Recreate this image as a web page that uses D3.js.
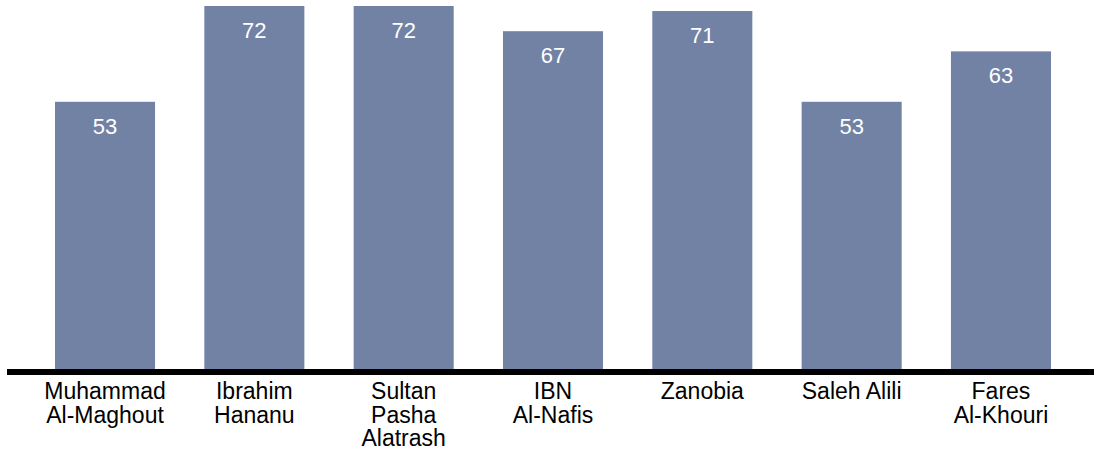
<!DOCTYPE html>
<html>
<head>
<meta charset="utf-8">
<script src="https://cdn.jsdelivr.net/npm/d3@7"></script>
<style>
  body { margin: 0; background: #fff; }
  svg { display: block; font-family: "Liberation Sans", Arial, Helvetica, sans-serif; }
</style>
</head>
<body>
<div id="container"></div>
<script>
const categories = [
  ["Muhammad", "Al-Maghout"],
  ["Ibrahim", "Hananu"],
  ["Sultan", "Pasha", "Alatrash"],
  ["IBN", "Al-Nafis"],
  ["Zanobia"],
  ["Saleh Alili"],
  ["Fares", "Al-Khouri"]
];
const values = [53, 72, 72, 67, 71, 53, 63];

const width = 1099, height = 451;

const svg = d3.select("#container")
  .append("svg")
  .attr("width", width)
  .attr("height", height);

const keys = categories.map(c => c.join(" "));

const x = d3.scaleBand()
  .domain(keys)
  .range([55, 1051])
  .paddingInner(0.33)
  .paddingOuter(0);

const y = d3.scaleLinear()
  .domain([0, 72])
  .range([369, 6]);

// bars
svg.selectAll("rect.bar")
  .data(values)
  .join("rect")
  .attr("class", "bar")
  .attr("x", (d, i) => x(keys[i]))
  .attr("y", d => y(d))
  .attr("width", x.bandwidth())
  .attr("height", d => y(0) - y(d))
  .attr("fill", "#7282a5");

// value labels
svg.selectAll("text.val")
  .data(values)
  .join("text")
  .attr("class", "val")
  .attr("x", (d, i) => x(keys[i]) + x.bandwidth() / 2)
  .attr("y", d => y(d) + 32)
  .attr("text-anchor", "middle")
  .style("font-size", "22px")
  .style("fill", "#fff")
  .text(d => d);

// baseline
svg.append("line")
  .attr("x1", 7)
  .attr("x2", 1094)
  .attr("y1", y(0) + 3)
  .attr("y2", y(0) + 3)
  .attr("stroke", "#000")
  .attr("stroke-width", 6);

// category labels
categories.forEach((lines, i) => {
  const t = svg.append("text")
    .attr("x", x(keys[i]) + x.bandwidth() / 2)
    .attr("y", 399)
    .attr("text-anchor", "middle")
    .style("font-size", "23px")
    .style("fill", "#000");
  lines.forEach((l, j) => {
    t.append("tspan")
      .attr("x", x(keys[i]) + x.bandwidth() / 2)
      .attr("dy", j === 0 ? 0 : 23.5)
      .text(l);
  });
});
</script>
</body>
</html>
